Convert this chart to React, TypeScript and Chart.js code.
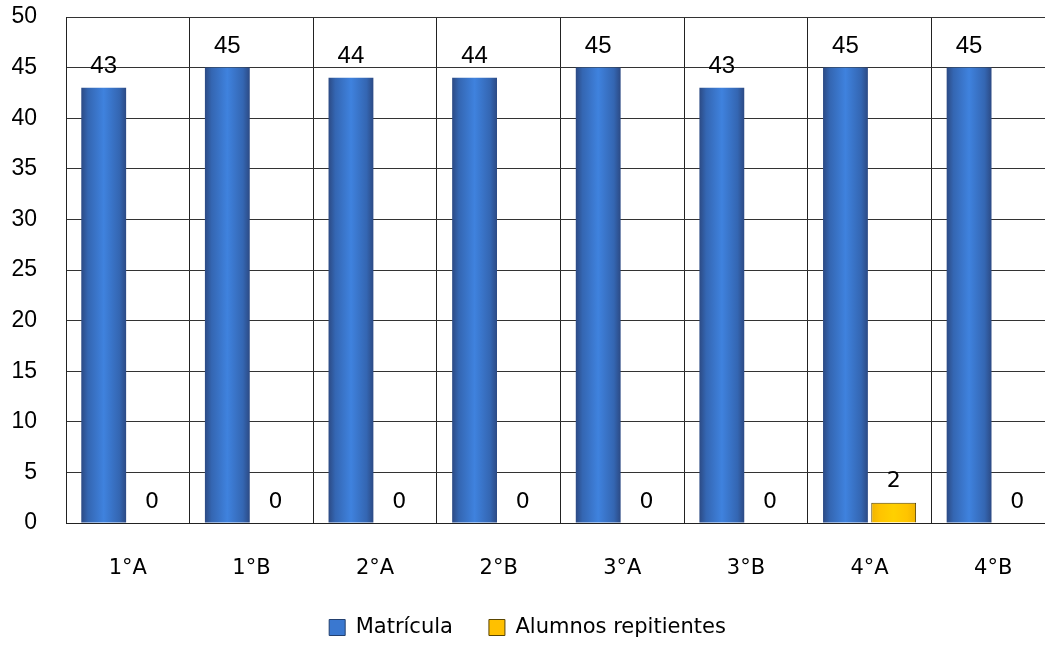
import React, { useEffect, useRef } from "react";
import { Chart, registerables } from "chart.js";

Chart.register(...registerables);

const categories = ["1°A", "1°B", "2°A", "2°B", "3°A", "3°B", "4°A", "4°B"];
const matricula = [43, 45, 44, 44, 45, 43, 45, 45];
const repitientes = [0, 0, 0, 0, 0, 0, 2, 0];
const yTicks = [0, 5, 10, 15, 20, 25, 30, 35, 40, 45, 50];

const COMIC = "'DejaVu Sans', sans-serif";
const ARIAL = "'Liberation Sans', Arial, sans-serif";

const gradientPlugin = {
  id: "barGradient",
  beforeDatasetsDraw(chart: any) {
    const ctx = chart.ctx;
    chart.data.datasets.forEach((ds: any, di: number) => {
      const meta = chart.getDatasetMeta(di);
      meta.data.forEach((el: any) => {
        const w = el.width;
        const x0 = el.x - w / 2;
        const g = ctx.createLinearGradient(x0, 0, x0 + w, 0);
        if (di === 0) {
          g.addColorStop(0, "#2c4a84");
          g.addColorStop(0.15, "#3466b2");
          g.addColorStop(0.5, "#3f82de");
          g.addColorStop(0.85, "#3466b2");
          g.addColorStop(1, "#2c4a84");
        } else {
          g.addColorStop(0, "#f0b400");
          g.addColorStop(0.2, "#ffc400");
          g.addColorStop(0.5, "#ffd000");
          g.addColorStop(0.8, "#ffc400");
          g.addColorStop(1, "#f0b400");
        }
        el.options = Object.assign({}, el.options, { backgroundColor: g });
      });
    });
  },
};

const labelsPlugin = {
  id: "valueLabels",
  afterDatasetsDraw(chart: any) {
    const ctx = chart.ctx;
    ctx.save();
    ctx.fillStyle = "#000";
    ctx.textAlign = "center";
    ctx.textBaseline = "middle";
    chart.data.datasets.forEach((ds: any, di: number) => {
      const meta = chart.getDatasetMeta(di);
      ctx.font = di === 0 ? `24px ${ARIAL}` : `22px ${COMIC}`;
      meta.data.forEach((el: any, i: number) => {
        ctx.fillText(String(ds.data[i]), el.x, el.y - 21);
      });
    });
    ctx.restore();
  },
};

export default function App() {
  const ref = useRef<HTMLCanvasElement>(null);
  useEffect(() => {
    if (!ref.current) return;
    const chart = new Chart(ref.current, {
      type: "bar",
      data: {
        labels: categories,
        datasets: [
          {
            label: "Matrícula",
            data: matricula,
            backgroundColor: () => "#3a78d0",
            borderColor: "#2a4578",
            borderWidth: 0,
            categoryPercentage: 0.78,
            barPercentage: 0.93,
          },
          {
            label: "Alumnos repitientes",
            data: repitientes,
            backgroundColor: () => "#ffc000",
            borderColor: "#5a4500",
            borderWidth: 1,
            categoryPercentage: 0.78,
            barPercentage: 0.93,
          },
        ],
      },
      options: {
        animation: false,
        responsive: false,
        maintainAspectRatio: false,
        layout: { padding: { top: 17, right: 5, bottom: 0, left: 0 } },
        plugins: {
          tooltip: { enabled: false },
          legend: {
            position: "bottom",
            labels: {
              boxWidth: 16,
              boxHeight: 16,
              padding: 36,
              color: "#000",
              font: { family: COMIC, size: 21 },
              generateLabels(chart: any) {
                return chart.data.datasets.map((ds: any, i: number) => ({
                  text: ds.label,
                  fillStyle: i === 0 ? "#3a78d0" : "#ffc000",
                  strokeStyle: i === 0 ? "#23406f" : "#5a4500",
                  lineWidth: 1,
                  datasetIndex: i,
                  hidden: false,
                  fontColor: "#000",
                }));
              },
            },
          },
        },
        scales: {
          x: {
            afterFit(scale: any) {
              scale.height = 58;
            },
            grid: { color: "#222", lineWidth: 1, drawTicks: false, offset: true },
            border: { color: "#222", width: 1 },
            ticks: { color: "#000", padding: 33, font: { family: COMIC, size: 21 } },
          },
          y: {
            min: 0,
            max: 50,
            afterBuildTicks(scale: any) {
              scale.ticks = yTicks.map((v) => ({ value: v }));
            },
            afterFit(scale: any) {
              scale.width = 66;
              scale.paddingTop = 0;
              scale.paddingBottom = 0;
            },
            grid: { color: "#333", lineWidth: 1, drawTicks: false },
            border: { color: "#222", width: 1 },
            ticks: { color: "#000", padding: 29, font: { family: ARIAL, size: 23 } },
          },
        },
      },
      plugins: [gradientPlugin, labelsPlugin],
    });
    return () => chart.destroy();
  }, []);
  return (
    <div style={{ position: "fixed", left: 0, top: 0, width: 1045, height: 645, overflow: "hidden", background: "#fff" }}>
      <canvas ref={ref} width={1060} height={648} style={{ display: "block" }} />
    </div>
  );
}
